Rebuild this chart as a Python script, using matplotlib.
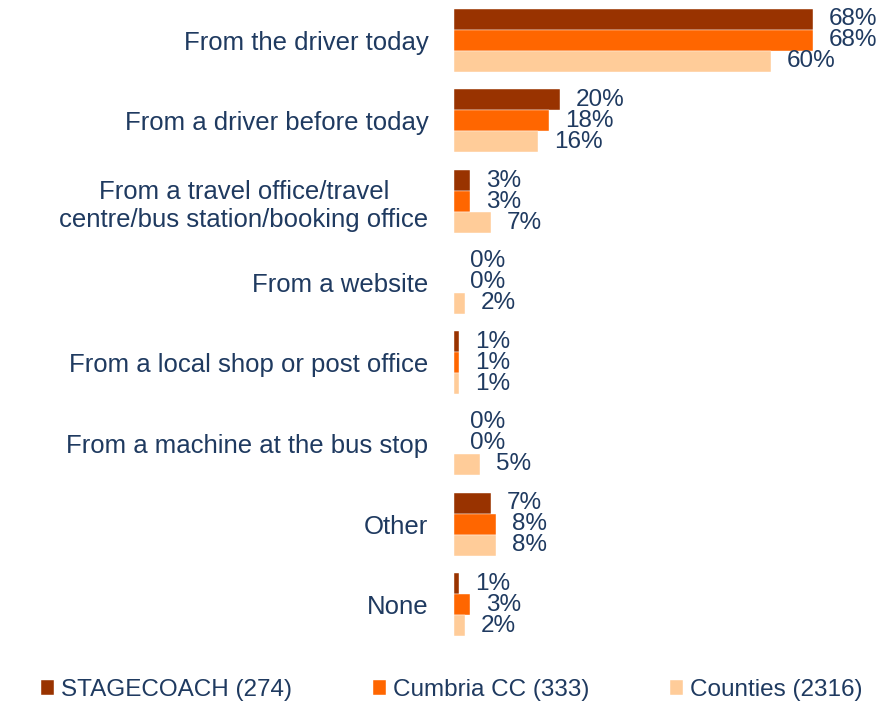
import matplotlib
matplotlib.use("Agg")
import matplotlib.pyplot as plt
import numpy as np

categories = [
    "From the driver today",
    "From a driver before today",
    "From a travel office/travel\ncentre/bus station/booking office",
    "From a website",
    "From a local shop or post office",
    "From a machine at the bus stop",
    "Other",
    "None",
]
series_names = ["STAGECOACH (274)", "Cumbria CC (333)", "Counties (2316)"]
stagecoach = [68, 20, 3, 0, 1, 0, 7, 1]
cumbria = [68, 18, 3, 0, 1, 0, 8, 3]
counties = [60, 16, 7, 2, 1, 5, 8, 2]
colors = ["#993300", "#FF6600", "#FFCC99"]
text_color = "#1F3A60"

plt.rcParams['font.family'] = ['Liberation Sans', 'DejaVu Sans']

W, H = 886, 706
fig = plt.figure(figsize=(W / 100, H / 100), dpi=100)
ax = fig.add_axes([454 / W, 1 - 645 / H, (W - 454) / W, 645 / H])

y = np.arange(len(categories))
bh = 0.26
data = [stagecoach, cumbria, counties]
for k, (vals, c, name) in enumerate(zip(data, colors, series_names)):
    pos = y + (k - 1) * bh
    ax.barh(pos, vals, height=bh, color=c, label=name, edgecolor="white", linewidth=0.3)
    for p, v in zip(pos, vals):
        ax.text(v + 3.0, p, f"{v}%", va="center", ha="left", fontsize=17.5, color=text_color)

ax.set_xlim(0, (W - 454) / 5.28)
ax.set_ylim(len(categories) - 0.5, -0.5)
ax.set_yticks(y)
ax.set_yticklabels(categories, fontsize=18.5, color=text_color, multialignment="center")
ax.tick_params(axis="y", length=0, pad=18.5)
ax.set_xticks([])
for s in ax.spines.values():
    s.set_visible(False)

handles, labels = ax.get_legend_handles_labels()
leg = fig.legend(handles, labels, loc="center", bbox_to_anchor=(0.51, 1 - 690 / H), ncol=3,
                 frameon=False, fontsize=17.5, handlelength=0.55, handleheight=0.55,
                 handletextpad=0.3, columnspacing=3.3, borderaxespad=0)
for t in leg.get_texts():
    t.set_color(text_color)

fig.savefig("out.png", dpi=100)
